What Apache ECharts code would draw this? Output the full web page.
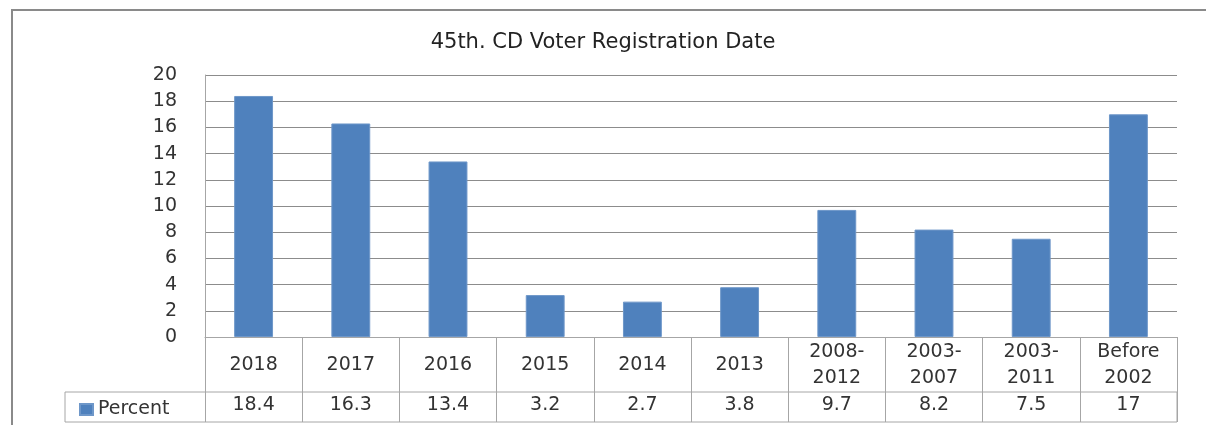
<!DOCTYPE html>
<html>
<head>
<meta charset="utf-8">
<script src="https://cdn.jsdelivr.net/npm/echarts@6/dist/echarts.min.js"></script>
<style>
  html, body { margin: 0; padding: 0; background: #fff; }
  #chart { width: 1206px; height: 425px; }
</style>
</head>
<body>
<div id="chart"></div>
<script>
const categories = ['2018', '2017', '2016', '2015', '2014', '2013', '2008-\n2012', '2003-\n2007', '2003-\n2011', 'Before\n2002']
const percent = [18.4, 16.3, 13.4, 3.2, 2.7, 3.8, 9.7, 8.2, 7.5, 17]
const yTicks = { min: 0, max: 20, interval: 2 }

const font = '"DejaVu Sans", "Liberation Sans", sans-serif'
const tableLine = '#a6a6a6'

const myChart = echarts.init(document.getElementById('chart'))
myChart.setOption({
  animation: false,
  textStyle: { fontFamily: font },
  title: {
    text: '45th. CD Voter Registration Date',
    left: 'center',
    top: 27,
    textStyle: { fontSize: 21, fontWeight: 'normal', color: '#222', fontFamily: font }
  },
  legend: {
    left: 74,
    top: 395,
    icon: 'rect',
    itemWidth: 13,
    itemHeight: 11,
    itemGap: 8,
    textStyle: { fontSize: 19, color: '#333', fontFamily: font },
    data: ['Percent']
  },
  grid: { left: 205, right: 29, top: 75, bottom: 88 },
  xAxis: [
    {
      type: 'category',
      data: categories,
      axisLine: { lineStyle: { color: tableLine } },
      axisTick: { show: true, length: 85, lineStyle: { color: tableLine } },
      axisLabel: {
        interval: 0,
        margin: 28,
        verticalAlign: 'middle',
        lineHeight: 26,
        fontSize: 19,
        color: '#333'
      }
    },
    {
      type: 'category',
      position: 'bottom',
      data: categories,
      axisLine: { show: false },
      axisTick: { show: false },
      axisLabel: {
        interval: 0,
        margin: 68,
        verticalAlign: 'middle',
        fontSize: 19,
        color: '#333',
        formatter: (v, i) => String(percent[i])
      }
    }
  ],
  yAxis: {
    type: 'value',
    min: yTicks.min,
    max: yTicks.max,
    interval: yTicks.interval,
    axisLine: { show: true, lineStyle: { color: tableLine } },
    axisTick: { show: false },
    axisLabel: { margin: 28, fontSize: 19, color: '#333' },
    splitLine: { lineStyle: { color: '#8c8c8c' } }
  },
  graphic: [
    {
      type: 'rect',
      shape: { x: 12, y: 10, width: 1210, height: 430 },
      style: { fill: 'none', stroke: '#8a8a8a', lineWidth: 2 },
      silent: true
    },
    {
      type: 'rect',
      shape: { x: 65, y: 392, width: 1112, height: 30 },
      style: { fill: 'none', stroke: tableLine, lineWidth: 1 },
      silent: true
    }
  ],
  series: [
    {
      name: 'Percent',
      type: 'bar',
      xAxisIndex: 0,
      data: percent,
      barWidth: '40%',
      itemStyle: { color: '#4f81bd', borderColor: '#6e97c9', borderWidth: 1 }
    }
  ]
})
</script>
</body>
</html>
